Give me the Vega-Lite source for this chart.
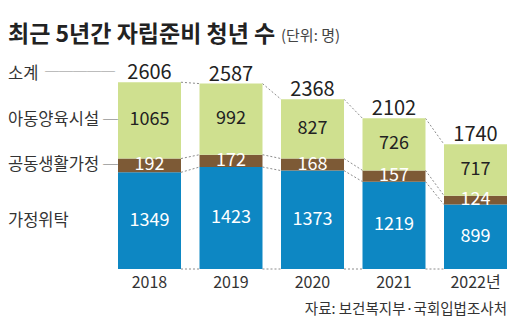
{
  "$schema": "https://vega.github.io/schema/vega-lite/v6.json",
  "width": 389,
  "height": 215,
  "autosize": "none",
  "padding": {"left": 118, "top": 54, "right": 23, "bottom": 64},
  "background": "white",
  "config": {
    "view": {"stroke": null},
    "text": {"font": "Noto Sans CJK KR"},
    "axisX": {"labelFont": "Noto Sans CJK KR", "labelFontSize": 16, "labelColor": "#333", "labelPadding": 5, "domain": false, "ticks": false, "labelAngle": 0}
  },
  "datasets": {
    "parts": [
      {"year": "2018", "cat": "가정위탁", "ord": 1, "value": 1349},
      {"year": "2018", "cat": "공동생활가정", "ord": 2, "value": 192},
      {"year": "2018", "cat": "아동양육시설", "ord": 3, "value": 1065},
      {"year": "2019", "cat": "가정위탁", "ord": 1, "value": 1423},
      {"year": "2019", "cat": "공동생활가정", "ord": 2, "value": 172},
      {"year": "2019", "cat": "아동양육시설", "ord": 3, "value": 992},
      {"year": "2020", "cat": "가정위탁", "ord": 1, "value": 1373},
      {"year": "2020", "cat": "공동생활가정", "ord": 2, "value": 168},
      {"year": "2020", "cat": "아동양육시설", "ord": 3, "value": 827},
      {"year": "2021", "cat": "가정위탁", "ord": 1, "value": 1219},
      {"year": "2021", "cat": "공동생활가정", "ord": 2, "value": 157},
      {"year": "2021", "cat": "아동양육시설", "ord": 3, "value": 726},
      {"year": "2022년", "cat": "가정위탁", "ord": 1, "value": 899},
      {"year": "2022년", "cat": "공동생활가정", "ord": 2, "value": 124},
      {"year": "2022년", "cat": "아동양육시설", "ord": 3, "value": 717}
    ],
    "totals": [
      {"year": "2018", "total": 2606},
      {"year": "2019", "total": 2587},
      {"year": "2020", "total": 2368},
      {"year": "2021", "total": 2102},
      {"year": "2022년", "total": 1740}
    ],
    "links": [
      {"from": "2018", "to": "2019", "v1": 2606, "v2": 2587},
      {"from": "2018", "to": "2019", "v1": 1541, "v2": 1595},
      {"from": "2018", "to": "2019", "v1": 1349, "v2": 1423},
      {"from": "2018", "to": "2019", "v1": 0, "v2": 0},
      {"from": "2019", "to": "2020", "v1": 2587, "v2": 2368},
      {"from": "2019", "to": "2020", "v1": 1595, "v2": 1541},
      {"from": "2019", "to": "2020", "v1": 1423, "v2": 1373},
      {"from": "2019", "to": "2020", "v1": 0, "v2": 0},
      {"from": "2020", "to": "2021", "v1": 2368, "v2": 2102},
      {"from": "2020", "to": "2021", "v1": 1541, "v2": 1376},
      {"from": "2020", "to": "2021", "v1": 1373, "v2": 1219},
      {"from": "2020", "to": "2021", "v1": 0, "v2": 0},
      {"from": "2021", "to": "2022년", "v1": 2102, "v2": 1740},
      {"from": "2021", "to": "2022년", "v1": 1376, "v2": 1023},
      {"from": "2021", "to": "2022년", "v1": 1219, "v2": 899},
      {"from": "2021", "to": "2022년", "v1": 0, "v2": 0}
    ],
    "notes": [
      {"year": "2018", "kind": "title", "t": "최근 5년간 자립준비 청년 수"},
      {"year": "2018", "kind": "unit", "t": "(단위: 명)"},
      {"year": "2022년", "kind": "source", "t": "자료: 보건복지부·국회입법조사처"}
    ]
  },
  "layer": [
    {
      "data": {"name": "links"},
      "mark": {"type": "rule", "strokeDash": [2, 2], "color": "#8c8c8c", "strokeWidth": 1},
      "encoding": {
        "x": {"field": "from", "type": "ordinal", "bandPosition": 1, "title": null,
              "scale": {"domain": ["2018", "2019", "2020", "2021", "2022년"], "paddingInner": 0.227, "paddingOuter": 0}},
        "x2": {"field": "to", "bandPosition": 0},
        "y": {"field": "v1", "type": "quantitative", "scale": {"domain": [0, 3000]}, "axis": null},
        "y2": {"field": "v2"}
      }
    },
    {
      "data": {"name": "parts"},
      "mark": {"type": "bar"},
      "encoding": {
        "x": {"field": "year", "type": "ordinal", "title": null},
        "y": {"field": "value", "type": "quantitative", "stack": "zero", "axis": null},
        "order": {"field": "ord", "type": "quantitative", "sort": "ascending"},
        "color": {"field": "cat", "type": "nominal", "legend": null,
                  "scale": {"domain": ["가정위탁", "공동생활가정", "아동양육시설"], "range": ["#0d87c3", "#7d5a36", "#cfe08f"]}}
      }
    },
    {
      "data": {"name": "parts"},
      "mark": {"type": "text", "fontSize": 18, "baseline": "middle", "align": "center"},
      "encoding": {
        "x": {"field": "year", "type": "ordinal", "title": null},
        "y": {"field": "value", "type": "quantitative", "stack": "zero", "bandPosition": 0.5, "axis": null},
        "order": {"field": "ord", "type": "quantitative", "sort": "ascending"},
        "detail": {"field": "cat", "type": "nominal"},
        "text": {"field": "value", "type": "quantitative"},
        "color": {"condition": {"test": "datum.cat === '아동양육시설'", "value": "#222222"}, "value": "#ffffff"}
      }
    },
    {
      "data": {"name": "parts"},
      "transform": [{"filter": "datum.year === '2018'"}],
      "mark": {"type": "text", "fontSize": 16.5, "baseline": "middle", "align": "left", "dx": -110, "color": "#333"},
      "encoding": {
        "x": {"field": "year", "type": "ordinal", "bandPosition": 0, "title": null},
        "y": {"field": "value", "type": "quantitative", "stack": "zero", "bandPosition": 0.5, "axis": null},
        "order": {"field": "ord", "type": "quantitative", "sort": "ascending"},
        "detail": {"field": "cat", "type": "nominal"},
        "text": {"field": "cat", "type": "nominal"}
      }
    },
    {
      "data": {"name": "parts"},
      "transform": [{"filter": "datum.year === '2018'"}],
      "mark": {"type": "text", "fontSize": 15, "baseline": "middle", "align": "right", "dx": 0, "color": "#666"},
      "encoding": {
        "x": {"field": "year", "type": "ordinal", "bandPosition": 0, "title": null},
        "y": {"field": "value", "type": "quantitative", "stack": "zero", "bandPosition": 0.5, "axis": null},
        "order": {"field": "ord", "type": "quantitative", "sort": "ascending"},
        "detail": {"field": "cat", "type": "nominal"},
        "text": {"condition": {"test": "datum.cat !== '가정위탁'", "value": "─"}, "value": ""}
      }
    },
    {
      "data": {"name": "totals"},
      "mark": {"type": "text", "fontSize": 20, "baseline": "alphabetic", "align": "center", "dy": -3, "color": "#222"},
      "encoding": {
        "x": {"field": "year", "type": "ordinal", "title": null},
        "y": {"field": "total", "type": "quantitative", "axis": null},
        "text": {"field": "total", "type": "quantitative"}
      }
    },
    {
      "data": {"name": "totals"},
      "transform": [{"filter": "datum.year === '2018'"}],
      "mark": {"type": "text", "fontSize": 16.5, "baseline": "alphabetic", "align": "left", "dx": -110, "dy": -3, "color": "#333", "text": "소계"},
      "encoding": {
        "x": {"field": "year", "type": "ordinal", "bandPosition": 0, "title": null},
        "y": {"field": "total", "type": "quantitative", "axis": null}
      }
    },
    {
      "data": {"name": "totals"},
      "transform": [{"filter": "datum.year === '2018'"}],
      "mark": {"type": "text", "fontSize": 14, "baseline": "middle", "align": "right", "dx": -3, "dy": -10, "color": "#888", "text": "─────"},
      "encoding": {
        "x": {"field": "year", "type": "ordinal", "bandPosition": 0, "title": null},
        "y": {"field": "total", "type": "quantitative", "axis": null}
      }
    },
    {
      "data": {"name": "notes"},
      "transform": [{"filter": "datum.kind === 'title'"}],
      "mark": {"type": "text", "fontSize": 23, "fontWeight": "bold", "baseline": "alphabetic", "align": "left", "dx": -110, "dy": -12, "color": "#222"},
      "encoding": {
        "x": {"field": "year", "type": "ordinal", "bandPosition": 0, "title": null},
        "y": {"datum": 3000, "type": "quantitative", "axis": null},
        "text": {"field": "t", "type": "nominal"}
      }
    },
    {
      "data": {"name": "notes"},
      "transform": [{"filter": "datum.kind === 'unit'"}],
      "mark": {"type": "text", "fontSize": 15, "baseline": "alphabetic", "align": "left", "dx": 163, "dy": -13, "color": "#444"},
      "encoding": {
        "x": {"field": "year", "type": "ordinal", "bandPosition": 0, "title": null},
        "y": {"datum": 3000, "type": "quantitative", "axis": null},
        "text": {"field": "t", "type": "nominal"}
      }
    },
    {
      "data": {"name": "notes"},
      "transform": [{"filter": "datum.kind === 'source'"}],
      "mark": {"type": "text", "fontSize": 14.5, "baseline": "middle", "align": "right", "dy": 41, "color": "#333"},
      "encoding": {
        "x": {"field": "year", "type": "ordinal", "bandPosition": 1, "title": null},
        "y": {"datum": 0, "type": "quantitative", "axis": null},
        "text": {"field": "t", "type": "nominal"}
      }
    }
  ]
}
